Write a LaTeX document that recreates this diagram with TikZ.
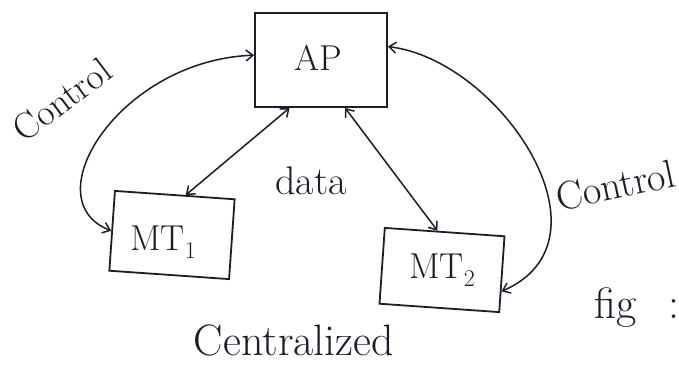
\documentclass[tikz,border=0pt]{standalone}
\usetikzlibrary{arrows.meta,calc}
\definecolor{ink}{RGB}{28,28,45}
\newcommand{\subidx}[1]{\raisebox{-0.22em}{\fontsize{24}{24}\selectfont #1}}
\begin{document}
\begin{tikzpicture}[x=1pt,y=-1pt,
  box/.style={draw=ink,line width=1.8pt,inner sep=0pt},
  conn/.style={draw=ink,line width=1.5pt,{Straight Barb[length=7pt,width=11pt]}-{Straight Barb[length=7pt,width=11pt]}},
  big/.style={text=ink,inner sep=0pt,font=\fontsize{36}{36}\selectfont},
  hand/.style={text=ink,inner sep=0pt,font=\fontsize{40}{40}\selectfont}]
\useasboundingbox[fill=white] (0,0) rectangle (679,367);
% boxes
\node[box,minimum width=132pt,minimum height=94pt] (AP) at (321,60) {};
\node[box,minimum width=120pt,minimum height=80pt,rotate=-4] (MT1) at (172,235) {};
\node[box,minimum width=120pt,minimum height=76pt,rotate=-4] (MT2) at (442,270) {};
% box texts
\node[big] (APt) at (318,58) {AP};
\node[big] (MT1t) at (163,242) {MT\subidx{1}};
\node[big] (MT2t) at (442,270) {MT\subidx{2}};
% attachment points
\coordinate (APl) at ($(AP.north west)!0.45!(AP.south west)$);
\coordinate (APr) at ($(AP.north east)!0.36!(AP.south east)$);
\coordinate (APb1) at ($(AP.south west)!0.265!(AP.south east)$);
\coordinate (APb2) at ($(AP.south west)!0.68!(AP.south east)$);
\coordinate (MT1top) at ($(MT1.north west)!0.59!(MT1.north east)$);
\coordinate (MT2top) at ($(MT2.north west)!0.44!(MT2.north east)$);
\coordinate (MT2r) at ($(MT2.north east)!0.72!(MT2.south east)$);
% connectors
\draw[conn] (APl) .. controls (120,60) and (32,200) .. (MT1.west);
\draw[conn] (APr) .. controls (500,60) and (620,240) .. (MT2r);
\draw[conn] (APb1) -- (MT1top);
\draw[conn] (APb2) -- (MT2top);
% labels
\node[hand,rotate=37,font=\fontsize{37}{37}\selectfont] (c1) at (62,100) {Control};
\node[hand] (data) at (311,181) {data};
\node[hand,rotate=12,anchor=west] (c2) at (556,198) {Control};
\node[hand,font=\fontsize{44}{44}\selectfont] (cent) at (294,340) {Centralized};
\node[hand,anchor=base west,font=\fontsize{44}{44}\selectfont] (fig) at (594,318) {fig\hspace{32pt}:};
\end{tikzpicture}
\end{document}
